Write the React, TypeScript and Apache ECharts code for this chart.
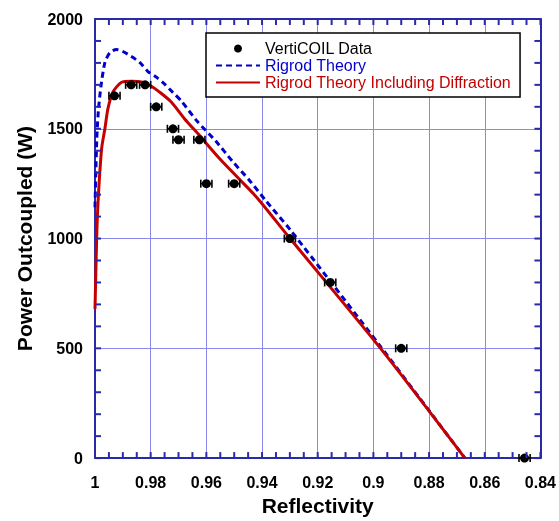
import React, { useEffect, useRef } from "react";
import * as echarts from "echarts";

// Measured data (VertiCOIL)
const dataR = [0.993, 0.987, 0.982, 0.978, 0.972, 0.97, 0.9625, 0.96, 0.95, 0.93, 0.9155, 0.89, 0.8457];
const dataP = [1650, 1700, 1700, 1600, 1500, 1450, 1450, 1250, 1250, 1000, 800, 500, 0];
const dataErr = [0.002, 0.002, 0.002, 0.002, 0.002, 0.002, 0.002, 0.002, 0.002, 0.002, 0.002, 0.002, 0.002];

// Rigrod theory (blue dashed)
const rigrodR = [1.0, 0.99939, 0.99882, 0.99786, 0.99643, 0.99464, 0.99225, 0.99, 0.98689, 0.98393, 0.98107, 0.97796, 0.975, 0.97214, 0.96904, 0.96321, 0.95654, 0.95071, 0.94464, 0.93868, 0.92975, 0.89714, 0.86714];
const rigrodP = [1142, 1443, 1578, 1694, 1802, 1847, 1861, 1852, 1829, 1802, 1762, 1735, 1703, 1667, 1627, 1533, 1443, 1353, 1267, 1173, 1038, 503, 0];

// Rigrod theory including diffraction (red)
const diffR = [1.0, 0.99939, 0.99882, 0.99761, 0.99643, 0.99536, 0.99357, 0.99046, 0.98689, 0.98286, 0.97975, 0.97679, 0.97261, 0.96786, 0.9625, 0.95536, 0.94821, 0.94179, 0.93036, 0.89714, 0.86714];
const diffP = [679, 1007, 1187, 1411, 1501, 1591, 1667, 1712, 1717, 1712, 1694, 1667, 1622, 1546, 1470, 1366, 1271, 1186, 1007, 495, 0];

// Axis structure
const xMin = 0.84;
const xMax = 1;
const xInterval = 0.02;
const xMinorSplit = 4;
const yMin = 0;
const yMax = 2000;
const yInterval = 500;
const yMinorSplit = 5;

const FONT = "Liberation Sans, Arial, Helvetica, sans-serif";
const AXIS_BLUE = "#2a2aa8";
const GRID_BLUE = "#8a8aec";
const LINE_BLUE = "#0000cc";
const LINE_RED = "#c40000";
const TICK_LEN = 6;

export default function App() {
  const ref = useRef<HTMLDivElement>(null);

  useEffect(() => {
    if (!ref.current) return;
    const chart = echarts.init(ref.current, undefined, { renderer: "svg" });

    const zip = (a: number[], b: number[]) => a.map((v, i) => [v, b[i]]);

    const xStep = xInterval / xMinorSplit;
    const xTickVals: number[] = [];
    for (let i = 0; i <= Math.round((xMax - xMin) / xStep); i++) xTickVals.push(xMin + i * xStep);
    const yStep = yInterval / yMinorSplit;
    const yTickVals: number[] = [];
    for (let i = 0; i <= Math.round((yMax - yMin) / yStep); i++) yTickVals.push(yMin + i * yStep);

    const tickStyle = { stroke: AXIS_BLUE, lineWidth: 2 };
    const axisLine = { show: true, onZero: false, lineStyle: { color: AXIS_BLUE, width: 2 } };

    const option: any = {
      animation: false,
      textStyle: { fontFamily: FONT },
      grid: { left: 95, right: 16, top: 19, bottom: 57 },
      legend: {
        orient: "vertical",
        left: 206,
        top: 33,
        padding: [7, 9, 6, 9],
        itemWidth: 44,
        itemHeight: 8,
        itemGap: 0,
        backgroundColor: "#ffffff",
        borderColor: "#000000",
        borderWidth: 1.5,
        borderRadius: 0,
        textStyle: { fontFamily: FONT, fontSize: 16, lineHeight: 17 },
        data: [
          { name: "VertiCOIL Data", textStyle: { color: "#000000" } },
          { name: "Rigrod Theory", textStyle: { color: LINE_BLUE }, itemStyle: { opacity: 0 } },
          { name: "Rigrod Theory Including Diffraction", textStyle: { color: LINE_RED }, itemStyle: { opacity: 0 } },
        ],
      },
      xAxis: [
        {
          type: "value",
          position: "bottom",
          min: xMin,
          max: xMax,
          interval: xInterval,
          inverse: true,
          axisLine,
          axisTick: { show: false },
          splitLine: { show: true, lineStyle: { color: GRID_BLUE, width: 1 } },
          axisLabel: {
            color: "#000",
            fontSize: 16,
            fontWeight: "bold",
            fontFamily: FONT,
            margin: 16,
            formatter: (v: number) => String(Math.round(v * 100) / 100),
          },
          name: "Reflectivity",
          nameLocation: "middle",
          nameGap: 34,
          nameTextStyle: { color: "#000", fontSize: 21, fontWeight: "bold", fontFamily: FONT },
        },
        {
          type: "value",
          position: "top",
          min: xMin,
          max: xMax,
          interval: xInterval,
          inverse: true,
          axisLine,
          axisTick: { show: false },
          splitLine: { show: false },
          axisLabel: { show: false },
        },
      ],
      yAxis: [
        {
          type: "value",
          position: "left",
          min: yMin,
          max: yMax,
          interval: yInterval,
          axisLine,
          axisTick: { show: false },
          splitLine: { show: true, lineStyle: { color: GRID_BLUE, width: 1 } },
          axisLabel: {
            color: "#000",
            fontSize: 16,
            fontWeight: "bold",
            fontFamily: FONT,
            margin: 12,
            formatter: (v: number) => String(v),
          },
          name: "Power Outcoupled (W)",
          nameLocation: "middle",
          nameGap: 60,
          nameTextStyle: { color: "#000", fontSize: 21, fontWeight: "bold", fontFamily: FONT },
        },
        {
          type: "value",
          position: "right",
          min: yMin,
          max: yMax,
          interval: yInterval,
          axisLine,
          axisTick: { show: false },
          splitLine: { show: false },
          axisLabel: { show: false },
        },
      ],
      series: [
        {
          name: "xticks",
          type: "custom",
          xAxisIndex: 0,
          yAxisIndex: 0,
          silent: true,
          clip: false,
          z: 10,
          data: xTickVals.map((v) => [v, yMin]),
          renderItem: (params: any, api: any) => {
            const v = api.value(0);
            const b = api.coord([v, yMin]);
            const t = api.coord([v, yMax]);
            return {
              type: "group",
              children: [
                { type: "line", shape: { x1: b[0], y1: b[1], x2: b[0], y2: b[1] - TICK_LEN }, style: tickStyle },
                { type: "line", shape: { x1: t[0], y1: t[1], x2: t[0], y2: t[1] + TICK_LEN }, style: tickStyle },
              ],
            };
          },
        },
        {
          name: "yticks",
          type: "custom",
          xAxisIndex: 0,
          yAxisIndex: 0,
          silent: true,
          clip: false,
          z: 10,
          data: yTickVals.map((v) => [xMax, v]),
          renderItem: (params: any, api: any) => {
            const v = api.value(1);
            const l = api.coord([xMax, v]);
            const r = api.coord([xMin, v]);
            return {
              type: "group",
              children: [
                { type: "line", shape: { x1: l[0], y1: l[1], x2: l[0] + TICK_LEN, y2: l[1] }, style: tickStyle },
                { type: "line", shape: { x1: r[0], y1: r[1], x2: r[0] - TICK_LEN, y2: r[1] }, style: tickStyle },
              ],
            };
          },
        },
        {
          name: "Rigrod Theory",
          type: "line",
          xAxisIndex: 0,
          yAxisIndex: 0,
          data: zip(rigrodR, rigrodP),
          smooth: 0.25,
          symbol: "none",
          color: LINE_BLUE,
          lineStyle: { color: LINE_BLUE, width: 3, type: [6, 4] },
          z: 3,
        },
        {
          name: "Rigrod Theory Including Diffraction",
          type: "line",
          xAxisIndex: 0,
          yAxisIndex: 0,
          data: zip(diffR, diffP),
          smooth: 0.25,
          symbol: "none",
          color: LINE_RED,
          lineStyle: { color: LINE_RED, width: 3 },
          z: 4,
        },
        {
          name: "errorbars",
          type: "custom",
          xAxisIndex: 0,
          yAxisIndex: 0,
          data: dataR.map((r, i) => [r, dataP[i], dataErr[i]]),
          z: 5,
          renderItem: (params: any, api: any) => {
            const x = api.value(0);
            const y = api.value(1);
            const e = api.value(2);
            const p1 = api.coord([x - e, y]);
            const p2 = api.coord([x + e, y]);
            const h = 4;
            const st = { stroke: "#000", lineWidth: 1.6 };
            return {
              type: "group",
              children: [
                { type: "line", shape: { x1: p1[0], y1: p1[1], x2: p2[0], y2: p2[1] }, style: st },
                { type: "line", shape: { x1: p1[0], y1: p1[1] - h, x2: p1[0], y2: p1[1] + h }, style: st },
                { type: "line", shape: { x1: p2[0], y1: p2[1] - h, x2: p2[0], y2: p2[1] + h }, style: st },
              ],
            };
          },
        },
        {
          name: "VertiCOIL Data",
          type: "scatter",
          xAxisIndex: 0,
          yAxisIndex: 0,
          data: zip(dataR, dataP),
          symbol: "circle",
          symbolSize: 9,
          color: "#000",
          itemStyle: { color: "#000", opacity: 1 },
          z: 6,
        },
      ],
    };

    chart.setOption(option);
    return () => chart.dispose();
  }, []);

  return <div ref={ref} style={{ position: "fixed", left: 0, top: 0, width: 559, height: 521 }} />;
}
